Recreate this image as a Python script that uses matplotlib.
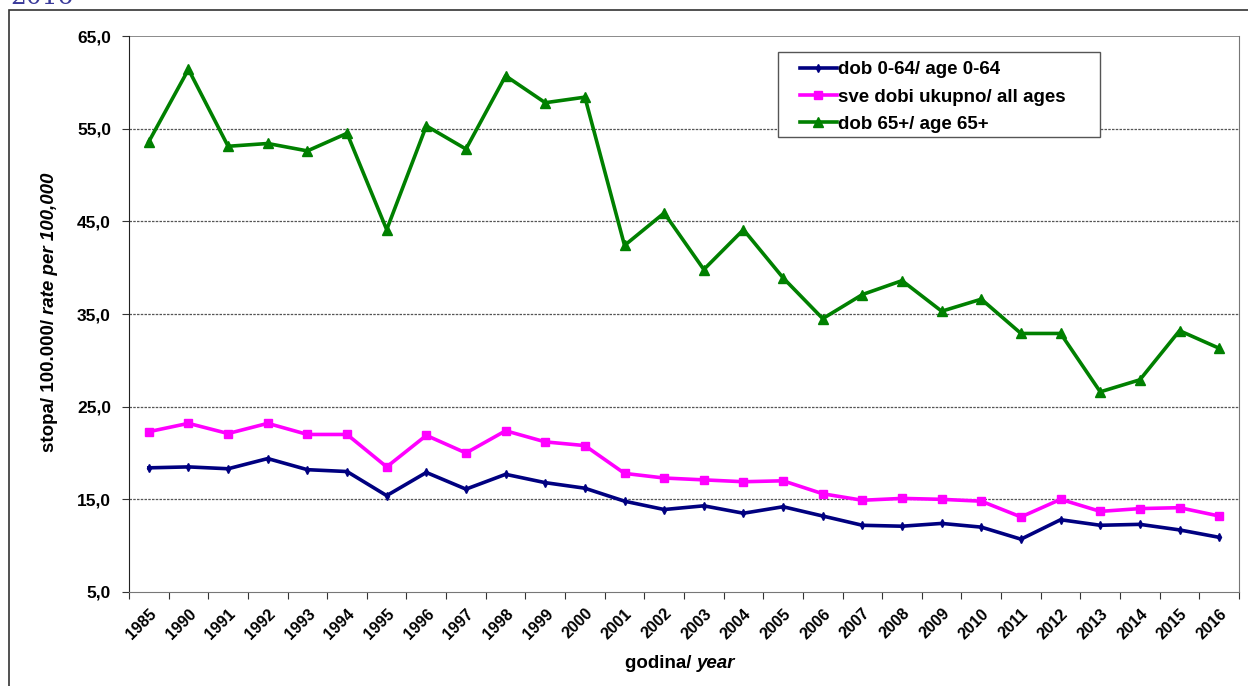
import matplotlib
matplotlib.use("Agg")
import matplotlib.pyplot as plt
from matplotlib.patches import Rectangle

years = ["1985"] + [str(y) for y in range(1990, 2017)]
age_0_64 = [18.4, 18.5, 18.3, 19.4, 18.2, 18.0, 15.4, 17.9, 16.1, 17.7, 16.8, 16.2,
            14.8, 13.9, 14.3, 13.5, 14.2, 13.2, 12.2, 12.1, 12.4, 12.0, 10.7, 12.8,
            12.2, 12.3, 11.7, 10.9]
all_ages = [22.3, 23.2, 22.1, 23.2, 22.0, 22.0, 18.5, 21.9, 20.0, 22.4, 21.2, 20.8,
            17.8, 17.3, 17.1, 16.9, 17.0, 15.6, 14.9, 15.1, 15.0, 14.8, 13.1, 15.0,
            13.7, 14.0, 14.1, 13.2]
age_65 = [53.6, 61.4, 53.1, 53.4, 52.6, 54.5, 44.1, 55.3, 52.8, 60.7, 57.8, 58.4,
          42.4, 45.9, 39.8, 44.1, 38.9, 34.5, 37.1, 38.6, 35.3, 36.6, 32.9, 32.9,
          26.6, 27.9, 33.2, 31.3]
y_ticks = [5.0, 15.0, 25.0, 35.0, 45.0, 55.0, 65.0]
labels = ["dob 0-64/ age 0-64", "sve dobi ukupno/ all ages", "dob 65+/ age 65+"]

plt.rcParams['font.family'] = ['Liberation Sans', 'DejaVu Sans']

fig = plt.figure(figsize=(12.48, 6.86), dpi=100)
ax = fig.add_axes([129/1248, 1 - 592/686, (1239-129)/1248, (592-36)/686])

# outer chart frame
fig.patches.append(Rectangle((9/1248, -0.05), 1.2, 1 - 10/686 + 0.05,
                             transform=fig.transFigure, fill=False,
                             edgecolor='#333333', linewidth=1.2))
fig.text(0.008, 1.003, "2016", color='#3a3a9a', family='DejaVu Serif',
         fontsize=18, va='center', ha='left')

x = list(range(len(years)))
ax.plot(x, age_0_64, color='#000080', lw=2.6, marker='d', ms=4, label=labels[0], zorder=3)
ax.plot(x, all_ages, color='#ff00ff', lw=2.6, marker='s', ms=5.5, label=labels[1], zorder=3)
ax.plot(x, age_65, color='#008000', lw=2.6, marker='^', ms=7, label=labels[2], zorder=3)

ax.set_xlim(-0.5, len(years) - 0.5)
ax.set_ylim(5, 65)
ax.set_yticks(y_ticks)
ax.set_yticklabels([f"{v:.1f}".replace('.', ',') for v in y_ticks],
                   fontsize=12.5, fontweight='bold')
ax.set_xticks(x)
ax.set_xticklabels(years, rotation=45, ha='right', va='top', rotation_mode='anchor',
                   fontsize=11.5, fontweight='bold')
ax.tick_params(axis='x', length=0, pad=10)
ax.set_xticks([i - 0.5 for i in range(len(years) + 1)], minor=True)
ax.tick_params(axis='x', which='minor', length=5, width=0.8, color='#333333')
ax.tick_params(axis='y', length=5, width=0.8, color='#333333', pad=8)

for v in y_ticks[1:-1]:
    ax.axhline(v, color='#555555', lw=0.9, ls=(0, (2, 1)), zorder=1)
ax.axhline(65, color='#777777', lw=1.2, zorder=1)

ax.spines['top'].set_visible(False)
ax.spines['right'].set_color('#777777')
ax.spines['left'].set_color('#222222')
ax.spines['bottom'].set_color('#777777')

# legend box (frame drawn separately to match the reference padding)
ax.add_patch(Rectangle(((778-129)/1110, (592-137)/556), (1100-778)/1110, (137-52)/556,
                       transform=ax.transAxes, facecolor='white', edgecolor='#555555',
                       linewidth=1.0, zorder=4))
leg = ax.legend(loc='upper left', bbox_to_anchor=((800-129)/1110, (592-61)/556),
                frameon=False, prop={'weight': 'bold', 'size': 13.5},
                handlelength=1.95, handletextpad=0.1, borderpad=0,
                labelspacing=0.55, borderaxespad=0)
leg.set_zorder(5)

# y label with italic part
t1 = fig.text(50/1248, 1 - 452/686, "stopa/ 100.000/ ", rotation=90,
              fontsize=13.5, fontweight='bold', ha='center', va='bottom')
ax.annotate("rate per 100,000", xy=(0.5, 1), xycoords=t1, rotation=90,
            fontsize=13.5, fontweight='bold', style='italic', ha='center', va='bottom')

t2 = fig.text(625/1248, 1 - 663/686, "godina/ ", fontsize=13.5, fontweight='bold',
              ha='left', va='center')
ax.annotate("year", xy=(1, 0), xycoords=t2, fontsize=13.5, fontweight='bold',
            style='italic', ha='left', va='bottom')

fig.savefig("out.png", dpi=100)
